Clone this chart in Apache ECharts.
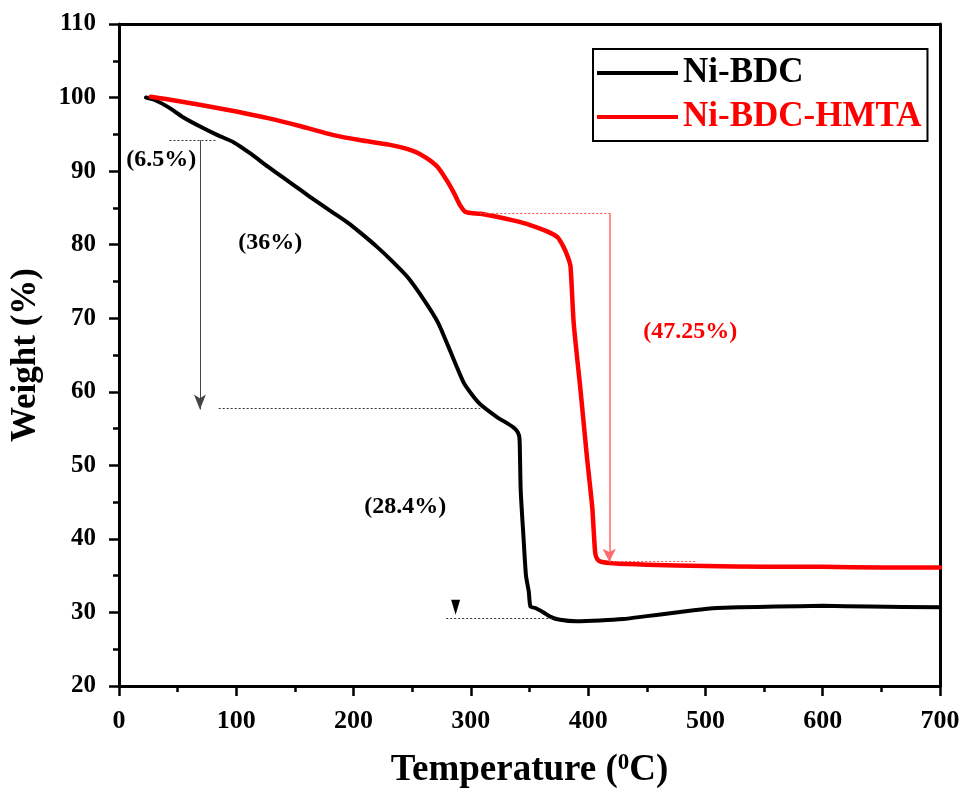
<!DOCTYPE html>
<html>
<head>
<meta charset="utf-8">
<script src="https://cdn.jsdelivr.net/npm/echarts@6/dist/echarts.min.js"></script>
<style>
  html, body { margin: 0; padding: 0; background: #fff; }
  #chart { width: 964px; height: 797px; }
</style>
</head>
<body>
<div id="chart"></div>
<script>
// Thermogravimetric curves: temperature (°C) vs. remaining weight (%)
const bdcTemp = [23, 30, 42, 55, 70, 84, 98, 112, 127, 141, 155, 170, 183, 195, 206, 220, 232, 246, 260, 272, 283, 294, 301, 308, 322, 336, 340, 341.5, 342.5, 345, 347, 349.4, 350.8, 355, 362, 368, 376, 390, 410, 430, 450, 470, 490, 510, 530, 560, 600, 640, 700];
const bdcWeight = [100.0, 99.7, 98.7, 97.3, 96.0, 94.9, 93.9, 92.4, 90.6, 89.0, 87.4, 85.7, 84.3, 83.0, 81.6, 79.7, 77.9, 75.6, 72.5, 69.4, 65.3, 61.2, 59.6, 58.3, 56.6, 55.2, 54.5, 53.6, 46.6, 39.9, 35.0, 32.8, 30.8, 30.6, 30.0, 29.4, 29.0, 28.8, 28.9, 29.1, 29.5, 29.9, 30.3, 30.6, 30.7, 30.8, 30.9, 30.8, 30.7];

const hmtaTemp = [27, 40, 55, 70, 100, 127, 155, 183, 206, 230, 250, 262, 272, 280, 286, 291, 295, 300, 308, 322, 336, 350, 365, 374, 379, 383, 385, 387.7, 393.5, 399, 403.5, 406, 408, 411, 421, 450, 500, 550, 600, 650, 700];
const hmtaWeight = [100.1, 99.8, 99.4, 99.0, 98.1, 97.2, 96.1, 94.9, 94.2, 93.6, 92.8, 91.8, 90.5, 88.6, 86.9, 85.3, 84.5, 84.3, 84.2, 83.8, 83.3, 82.7, 81.8, 81.0, 79.7, 78.2, 77.0, 69.3, 60.2, 51.1, 44.3, 38.1, 37.2, 36.9, 36.7, 36.5, 36.3, 36.2, 36.2, 36.1, 36.1];

const seriesNames = ['Ni-BDC', 'Ni-BDC-HMTA'];
const xTicks = [0, 100, 200, 300, 400, 500, 600, 700];
const yTicks = [20, 30, 40, 50, 60, 70, 80, 90, 100, 110];

// Weight-loss step annotations: [text, temperature, weight]
const bdcNotes = [['(6.5%)', 36, 91.5], ['(36%)', 129, 80.2], ['(28.4%)', 244, 44.3]];
const hmtaNotes = [['(47.25%)', 487, 68.1]];

// Guide lines: [[t1, w1], [t2, w2]]
const bdcGuides = [[[43, 94.2], [83, 94.2]], [[85, 57.7], [308, 57.7]], [[279, 29.25], [372, 29.25]]];
const bdcArrow = [[69, 94.2], [69, 57.6]];
const bdcArrowHead = [287, 30.7];
const hmtaGuides = [[[308, 84.3], [418, 84.3]], [[418, 36.9], [492, 36.9]]];
const hmtaArrow = [[418, 84.3], [418, 36.9]];

const FONT = "'Liberation Serif', 'Times New Roman', serif";

function pairs(xs, ys) { return xs.map((x, i) => [x, ys[i]]); }

function noteLabels(notes, color) {
  return notes.map(n => ({
    coord: [n[1], n[2]],
    symbol: 'circle', symbolSize: 0,
    label: { show: true, position: 'inside', formatter: n[0], color: color,
             fontFamily: FONT, fontWeight: 'bold', fontSize: 24 }
  }));
}

function dottedLines(guides, color) {
  return guides.map(g => [
    { coord: g[0], symbol: 'none', lineStyle: { type: [2, 2], width: 1, color: color } },
    { coord: g[1], symbol: 'none' }
  ]);
}

const chart = echarts.init(document.getElementById('chart'), null, { renderer: 'canvas' });

const axisLineStyle = { color: '#000', width: 3 };

chart.setOption({
  animation: false,
  backgroundColor: '#fff',
  grid: { left: 118, right: 24, top: 24, bottom: 111, containLabel: false },
  legend: {
    orient: 'vertical',
    left: 593, top: 49,
    padding: [4, 6, 4, 4],
    borderColor: '#000', borderWidth: 2,
    itemWidth: 81, itemHeight: 4, itemGap: 4,
    textStyle: { fontFamily: FONT, fontWeight: 'bold', fontSize: 35, lineHeight: 40 },
    data: [
      { name: seriesNames[0], icon: 'rect', itemStyle: { color: '#000' }, textStyle: { color: '#000' } },
      { name: seriesNames[1], icon: 'rect', itemStyle: { color: '#ff0000' }, textStyle: { color: '#ff0000' } }
    ]
  },
  xAxis: [{
    type: 'value', min: xTicks[0], max: xTicks[xTicks.length - 1], interval: 100,
    position: 'bottom',
    name: '{a|Temperature (}{s|0}{a|C)}',
    nameLocation: 'middle', nameGap: 66,
    nameTextStyle: {
      rich: {
        a: { fontFamily: FONT, fontWeight: 'bold', fontSize: 37, color: '#000' },
        s: { fontFamily: FONT, fontWeight: 'bold', fontSize: 23, color: '#000', verticalAlign: 'top', padding: [0, 0, 14, 0] }
      }
    },
    axisLine: { show: true, onZero: false, lineStyle: axisLineStyle },
    axisTick: { show: true, length: 10, lineStyle: { width: 2.5, color: '#000' } },
    minorTick: { show: true, splitNumber: 2, length: 6, lineStyle: { width: 2.5, color: '#000' } },
    axisLabel: { margin: 22, color: '#000', fontFamily: FONT, fontWeight: 'bold', fontSize: 26 },
    splitLine: { show: false }
  }, {
    type: 'value', min: 0, max: 700, position: 'top',
    axisLine: { show: true, onZero: false, lineStyle: axisLineStyle },
    axisTick: { show: false }, axisLabel: { show: false }, splitLine: { show: false }
  }],
  yAxis: [{
    type: 'value', min: yTicks[0], max: yTicks[yTicks.length - 1], interval: 10,
    position: 'left',
    name: 'Weight (%)',
    nameLocation: 'middle', nameGap: 76,
    nameTextStyle: { fontFamily: FONT, fontWeight: 'bold', fontSize: 35, color: '#000' },
    axisLine: { show: true, onZero: false, lineStyle: axisLineStyle },
    axisTick: { show: true, length: 10, lineStyle: { width: 2.5, color: '#000' } },
    minorTick: { show: true, splitNumber: 2, length: 6, lineStyle: { width: 2.5, color: '#000' } },
    axisLabel: { margin: 23, color: '#000', fontFamily: FONT, fontWeight: 'bold', fontSize: 25 },
    splitLine: { show: false }
  }, {
    type: 'value', min: 20, max: 110, position: 'right',
    axisLine: { show: true, onZero: false, lineStyle: axisLineStyle },
    axisTick: { show: false }, axisLabel: { show: false }, splitLine: { show: false }
  }],
  series: [{
    name: seriesNames[0],
    type: 'line',
    xAxisIndex: 0, yAxisIndex: 0,
    data: pairs(bdcTemp, bdcWeight),
    symbol: 'none', smooth: 0.2,
    color: '#000',
    lineStyle: { color: '#000', width: 4, cap: 'round', join: 'round' },
    markPoint: {
      silent: true,
      data: noteLabels(bdcNotes, '#000').concat([{
        coord: bdcArrowHead, symbol: 'triangle', symbolRotate: 180,
        symbolSize: [9, 15], itemStyle: { color: '#000' }, label: { show: false }
      }])
    },
    markLine: {
      silent: true,
      label: { show: false },
      data: dottedLines(bdcGuides, '#333').concat([[
        { coord: bdcArrow[0], symbol: 'none', lineStyle: { type: 'solid', width: 1, color: '#444' } },
        { coord: bdcArrow[1], symbol: 'arrow', symbolSize: [9, 15], itemStyle: { color: '#222' } }
      ]])
    }
  }, {
    name: seriesNames[1],
    type: 'line',
    xAxisIndex: 0, yAxisIndex: 0,
    data: pairs(hmtaTemp, hmtaWeight),
    symbol: 'none', smooth: 0.2,
    color: '#ff0000',
    lineStyle: { color: '#ff0000', width: 4.5, cap: 'round', join: 'round' },
    markPoint: { silent: true, data: noteLabels(hmtaNotes, '#ff0000') },
    markLine: {
      silent: true,
      label: { show: false },
      data: dottedLines(hmtaGuides, '#ff5050').concat([[
        { coord: hmtaArrow[0], symbol: 'none', lineStyle: { type: 'solid', width: 1.5, color: '#ff6a6a' } },
        { coord: hmtaArrow[1], symbol: 'arrow', symbolSize: [10, 13], itemStyle: { color: '#ff2020' } }
      ]])
    }
  }]
});
</script>
</body>
</html>
